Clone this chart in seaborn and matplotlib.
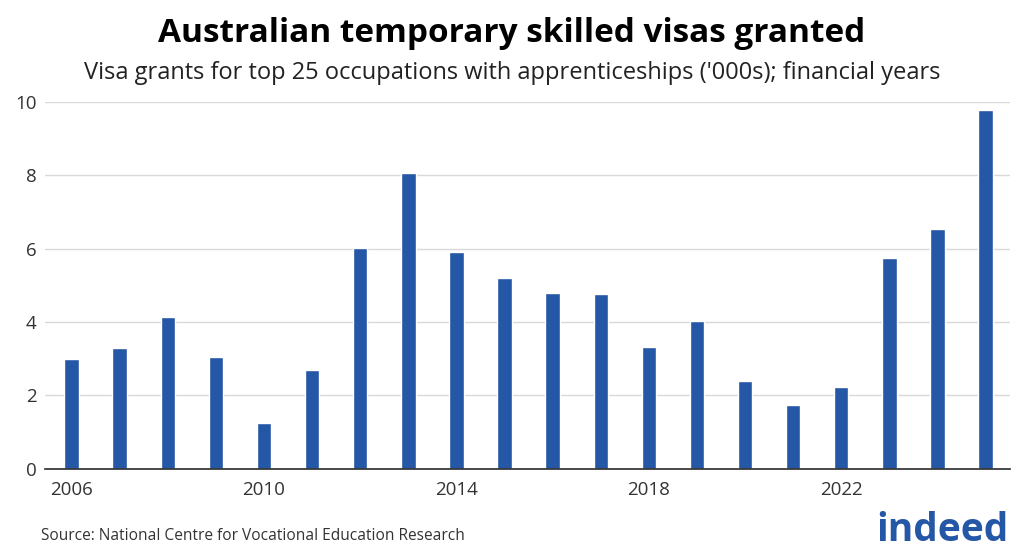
import matplotlib
matplotlib.use("Agg")
import matplotlib.pyplot as plt
import seaborn as sns
import pandas as pd

years = list(range(2006, 2026))
values = [3.0, 3.3, 4.15, 3.05, 1.25, 2.7, 6.02, 8.07, 5.92, 5.2, 4.8, 4.77, 3.32, 4.02, 2.4, 1.75, 2.22, 5.75, 6.55, 9.78]
tick_years = [2006, 2010, 2014, 2018, 2022]

sns.set_theme(style="white")
plt.rcParams['font.family'] = ['Open Sans', 'DejaVu Sans']

df = pd.DataFrame({"year": years, "value": values})
fig = plt.figure(figsize=(10.24, 5.58), dpi=100)
ax = fig.add_axes([0.044, 0.16, 0.942, 0.657])
sns.barplot(data=df, x="year", y="value", color="#2557a7", saturation=1, width=0.3, ax=ax)
ax.set_ylim(0, 10)
ax.set_xlim(-0.55, 19.5)
ax.set_yticks([0, 2, 4, 6, 8, 10])
ax.yaxis.grid(True, color="#d9d9d9", linewidth=1)
ax.set_axisbelow(True)
ax.set_xticks([years.index(y) for y in tick_years])
ax.set_xticklabels([str(y) for y in tick_years])
ax.tick_params(axis='both', labelsize=13.5, colors="#333333", length=0)
ax.tick_params(axis='x', pad=9)
ax.tick_params(axis='y', pad=6)
ax.set_xlabel("")
ax.set_ylabel("")
for s in ["top", "right", "left"]:
    ax.spines[s].set_visible(False)
ax.spines["bottom"].set_color("#333333")
fig.text(0.5, 0.94, "Australian temporary skilled visas granted", ha="center", va="center", fontsize=24, fontweight="bold", color="black")
fig.text(0.5, 0.87, "Visa grants for top 25 occupations with apprenticeships ('000s); financial years", ha="center", va="center", fontsize=17, color="#222222")
fig.text(0.04, 0.04, "Source: National Centre for Vocational Education Research", ha="left", va="center", fontsize=11.2, color="#333333")
fig.text(0.985, 0.05, "indeed", ha="right", va="center", fontsize=28, fontweight="bold", color="#2557a7")
fig.savefig("out.png", dpi=100)
